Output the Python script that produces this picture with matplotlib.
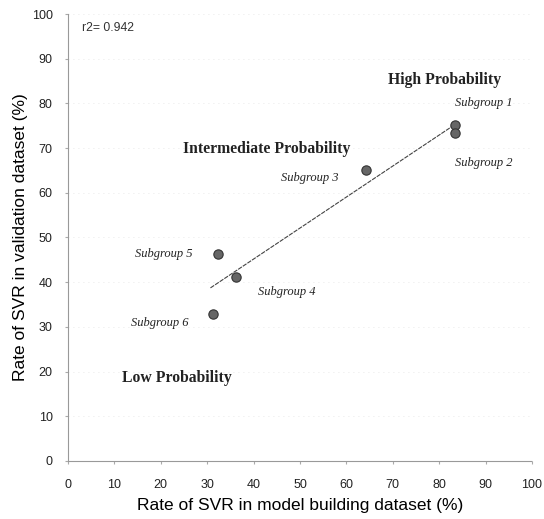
import numpy as np
import matplotlib
matplotlib.use("Agg")
import matplotlib.pyplot as plt

# data
groups = ["Subgroup 1", "Subgroup 2", "Subgroup 3", "Subgroup 4", "Subgroup 5", "Subgroup 6"]
svr_model = [83.3, 83.3, 64.3, 36.3, 32.4, 31.2]
svr_valid = [75.1, 73.3, 65.2, 41.2, 46.3, 32.9]
r2_text = "r2= 0.942"

# label placement (data coords)
group_label_pos = {
    "Subgroup 1": (83.5, 80.0),
    "Subgroup 2": (83.5, 66.7),
    "Subgroup 3": (46.0, 63.3),
    "Subgroup 4": (41.0, 37.8),
    "Subgroup 5": (14.5, 46.3),
    "Subgroup 6": (13.5, 30.9),
}
prob_labels = ["High Probability", "Intermediate Probability", "Low Probability"]
prob_pos = [(69.0, 85.2), (24.8, 69.8), (11.6, 18.6)]

fig = plt.figure(figsize=(5.44, 5.19), dpi=100)
ax = fig.add_axes([0.125, 0.112, 0.853, 0.861])

# faint dotted grid
for yv in range(10, 101, 10):
    ax.axhline(yv, color="#e0e0e0", lw=0.6, ls=(0, (1, 5)), zorder=0)

# regression line
k, b = np.polyfit(svr_model, svr_valid, 1)
xs = np.array([min(svr_model) - 0.5, max(svr_model)])
ax.plot(xs, k * xs + b, color="#444444", lw=0.8, ls=(0, (4, 1)), zorder=2)

ax.scatter(svr_model, svr_valid, s=45, color="#666666", edgecolor="#333333",
           linewidth=0.8, zorder=3)

for g in groups:
    x, y = group_label_pos[g]
    ax.text(x, y, g, fontsize=9, style="italic", family="Liberation Serif",
            va="center", ha="left", color="#222222")

for t, (x, y) in zip(prob_labels, prob_pos):
    ax.text(x, y, t, fontsize=11.3, weight="bold", family="Liberation Serif",
            va="center", ha="left", color="#222222")

ax.text(3.0, 96.9, r2_text, fontsize=8.8, family="Liberation Sans",
        va="center", ha="left", color="#333333")

ax.set_xlim(0, 100)
ax.set_ylim(0, 100)
ax.set_xticks(range(0, 101, 10))
ax.set_yticks(range(0, 101, 10))
ax.tick_params(labelsize=9, length=2, color="#aaaaaa", colors="#222222")
ax.tick_params(axis="x", pad=11)
ax.tick_params(axis="y", pad=9)
for lab in ax.get_xticklabels() + ax.get_yticklabels():
    lab.set_family("Liberation Sans")

for side in ["top", "right"]:
    ax.spines[side].set_visible(False)
for side in ["left", "bottom"]:
    ax.spines[side].set_linestyle((0, (1, 1)))
    ax.spines[side].set_color("#999999")
    ax.spines[side].set_linewidth(0.8)

ax.set_xlabel("Rate of SVR in model building dataset (%)", fontsize=12.5,
              family="Liberation Sans", labelpad=5)
ax.set_ylabel("Rate of SVR in validation dataset (%)", fontsize=12.5,
              family="Liberation Sans", labelpad=3)

fig.savefig("out.png", dpi=100)
